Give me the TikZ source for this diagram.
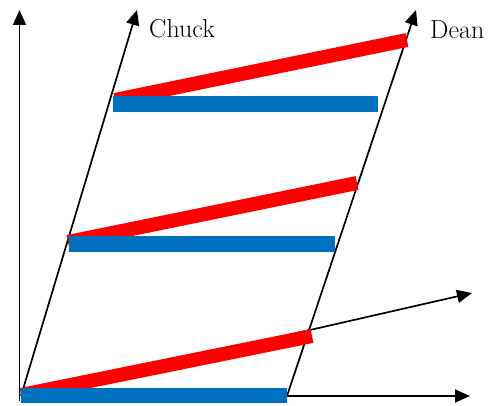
\documentclass[tikz,border=0pt]{standalone}
\usetikzlibrary{arrows.meta}
\definecolor{barblue}{RGB}{0,112,192}
\definecolor{barred}{RGB}{255,0,0}
\begin{document}
\begin{tikzpicture}[x=1pt,y=-1pt,
  axis/.style={line width=1.7pt,-{Triangle[length=15pt,width=13pt]}},
  redbar/.style={line width=14pt,draw=barred},
  bluebar/.style={line width=15.5pt,draw=barblue},
  lbl/.style={anchor=base west,inner sep=0pt,font=\fontsize{26}{30}\selectfont}]
\useasboundingbox (0,0) rectangle (493,406);
% axes
\coordinate (Vbase) at (19.5,401);
\coordinate (Vtop) at (19.5,10);
\coordinate (O) at (21,396);
\coordinate (Xend) at (470,396);
\coordinate (Ctop) at (137,10);
\coordinate (Dbase) at (287,396);
\coordinate (Dtop) at (416,10);
\coordinate (Tend) at (472,293);
\draw[axis] (Vbase) -- (Vtop);
\draw[axis] (O) -- (Xend);
\draw[axis] (O) -- (Ctop);
\draw[axis] (Dbase) -- (Dtop);
\draw[axis] (O) -- (Tend);
% red bars
\coordinate (r1a) at (21,395);  \coordinate (r1b) at (312,336);
\coordinate (r2a) at (68,242);  \coordinate (r2b) at (357,183);
\coordinate (r3a) at (115,100); \coordinate (r3b) at (407,40);
\draw[redbar] (r1a) -- (r1b);
\draw[redbar] (r2a) -- (r2b);
\draw[redbar] (r3a) -- (r3b);
% blue bars
\coordinate (b1a) at (21,395.5);  \coordinate (b1b) at (287,395.5);
\coordinate (b2a) at (69,244);    \coordinate (b2b) at (335,244);
\coordinate (b3a) at (113,104);   \coordinate (b3b) at (378,104);
\draw[bluebar] (b1a) -- (b1b);
\draw[bluebar] (b2a) -- (b2b);
\draw[bluebar] (b3a) -- (b3b);
% labels
\node[lbl] (chuck) at (149,38) {Chuck};
\node[lbl] (dean) at (430,39) {Dean};
\end{tikzpicture}
\end{document}
